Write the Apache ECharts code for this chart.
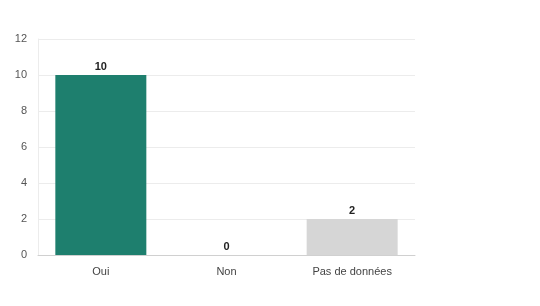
<!DOCTYPE html>
<html><head><meta charset="utf-8">
<script src="https://cdn.jsdelivr.net/npm/echarts@6/dist/echarts.min.js"></script>
<style>html,body{margin:0;padding:0;background:#fff}#c{width:540px;height:306px}</style>
</head><body><div id="c"></div>
<script>
const categories = ['Oui', 'Non', 'Pas de données'];
const values = [10, 0, 2];
const barColors = ['#1e7f6e', '#1e7f6e', '#d6d6d6'];
const yTicks = [0, 2, 4, 6, 8, 10, 12];

const chart = echarts.init(document.getElementById('c'));
chart.setOption({
  animation: false,
  grid: { left: 38, right: 125, top: 39, bottom: 51 },
  xAxis: {
    type: 'category', data: categories,
    axisLine: { lineStyle: { color: '#d0d0d0' } },
    axisTick: { show: false },
    axisLabel: { color: '#444', fontFamily: 'Liberation Sans, Arial', fontSize: 11, margin: 11 }
  },
  yAxis: {
    type: 'value', min: yTicks[0], max: yTicks[yTicks.length-1], interval: 2,
    axisLine: { show: true, lineStyle: { color: '#ececec' } },
    axisTick: { show: false },
    splitLine: { lineStyle: { color: '#ececec' } },
    axisLabel: { color: '#555', fontFamily: 'Liberation Sans, Arial', fontSize: 11, margin: 11 }
  },
  series: [{
    type: 'bar', barWidth: 91,
    data: values.map((v, i) => ({ value: v, itemStyle: { color: barColors[i] } })),
    label: { show: true, position: 'top', color: '#222', fontWeight: 'bold', fontFamily: 'Liberation Sans, Arial', fontSize: 11, distance: 3 }
  }]
});
</script></body></html>
